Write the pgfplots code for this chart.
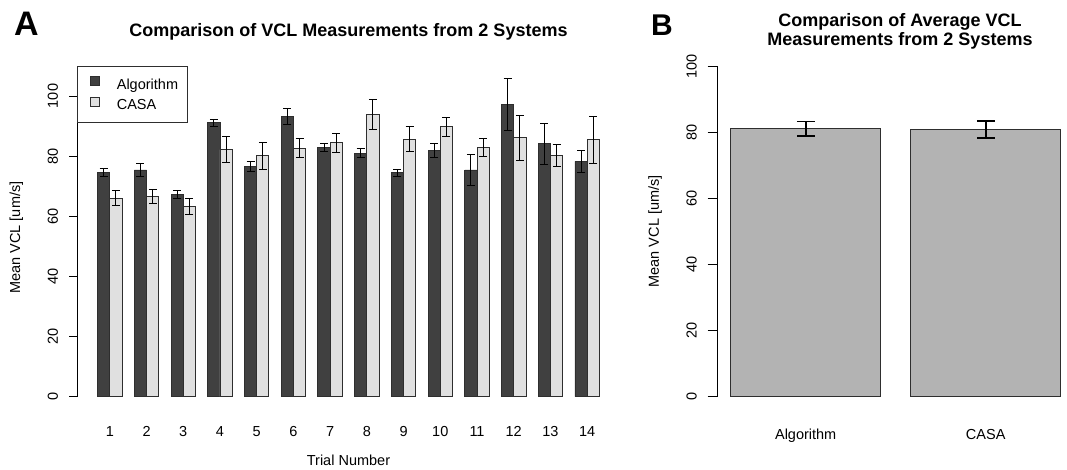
\documentclass[border=0pt]{standalone}
\usepackage{fontspec}
\setmainfont{Liberation Sans}
\usepackage{pgfplots}
\usepackage{pgfplotstable}
\pgfplotsset{compat=1.18}

\definecolor{algfill}{HTML}{404040}
\definecolor{casafill}{HTML}{E0E0E0}
\definecolor{avgfill}{HTML}{B3B3B3}
\definecolor{edge}{HTML}{2E2E2E}

% mean VCL per trial, with error (um/s)
\pgfplotstableread{
trial alg  algerr casa casaerr
1     74.5 1.25   66.0 2.55
2     75.4 2.0    66.7 2.35
3     67.3 1.35   63.3 2.7
4     91.1 1.2    82.2 4.3
5     76.6 1.6    80.1 4.45
6     93.2 2.65   82.6 3.2
7     82.9 1.35   84.5 3.2
8     81.0 1.5    93.8 4.9
9     74.5 1.2    85.7 4.0
10    82.0 2.35   89.8 3.2
11    75.4 5.0    82.9 2.85
12    97.2 8.6    86.1 7.5
13    84.1 6.85   80.1 3.65
14    78.3 3.7    85.4 7.8
}\vcltrials

% averages over all trials
\pgfplotstableread{
pos  mean  err
0.7  81.0  2.2
1.9  80.85 2.5
}\vclavg

\pgfplotsset{
  rstyle/.style={
    scale only axis,
    axis x line=bottom, axis y line=left,
    axis line style={draw=none},
    xtick style={draw=none},
    ytick style={black, line width=0.9pt},
    tick align=outside,
    clip=false,
    ytick={0,20,...,100},
    /pgf/number format/assume math mode=true,
    tick label style={font=\fontsize{14.5}{17}\selectfont},
    yticklabel style={rotate=90, anchor=base},
    xticklabel style={anchor=base},
  },
}

\begin{document}
\begin{tikzpicture}[x=1pt,y=1pt]
\useasboundingbox (0pt,0pt) rectangle (1067pt,-469pt);

\node[anchor=base west, inner sep=0pt, font=\bfseries\fontsize{34}{34}\selectfont] at (14pt,-35pt) {A};
\node[anchor=base west, inner sep=0pt, font=\bfseries\fontsize{30}{30}\selectfont] at (651pt,-35pt) {B};

% panel A
\begin{axis}[
  rstyle,
  at={(77.5pt,-409.45pt)}, anchor=south west,
  width=542pt, height=343.8pt,
  xmin=-0.64, xmax=43.64, ymin=-4.24, ymax=110.1,
  major tick length=8pt,
  yticklabel shift=11.5pt,
  xticklabel shift=19.5pt,
  xtick={2,5,...,41},
  xticklabels={1,2,3,4,5,6,7,8,9,10,11,12,13,14},
  ylabel={Mean VCL [um/s]},
  xlabel={Trial Number},
  every axis y label/.style={at={([xshift=-61pt]rel axis cs:0,0.5)}, rotate=90, anchor=center,
    font=\fontsize{14.5}{17}\selectfont},
  every axis x label/.style={at={([yshift=-50.5pt]rel axis cs:0.5,0)}, anchor=center,
    font=\fontsize{14.5}{17}\selectfont},
  title={Comparison of VCL Measurements from 2 Systems},
  every axis title/.style={at={(rel axis cs:0.5,1)}, anchor=base, yshift=29pt,
    font=\bfseries\fontsize{18}{21}\selectfont},
  legend image code/.code={
    \path (0pt,0pt);
    \draw[#1, line width=0.9pt] (3.4pt,-0.2pt) rectangle (12.4pt,8.8pt);
  },
  legend style={at={(rel axis cs:0,1)}, anchor=north west,
    draw=edge, line width=0.9pt, inner xsep=9pt, inner ysep=10pt,
    row sep=4.3pt,
    font=\fontsize{14.5}{17}\selectfont,
    nodes={inner sep=0pt, text height=10.5pt, text depth=3.2pt},
    /tikz/every odd column/.append style={column sep=16.6pt},
    cells={anchor=west}},
]
\addplot[ybar, bar width=1, bar shift=0pt, fill=algfill, draw=edge, line width=0.9pt,
  error bars/.cd, y dir=both, y explicit,
  error bar style={black, line width=1pt},
  error mark options={rotate=90, mark size=4pt, black, line width=1pt}]
  table[x expr=3*\thisrow{trial}-1.5, y=alg, y error=algerr] {\vcltrials};
\addlegendentry{Algorithm}
\addplot[ybar, bar width=1, bar shift=0pt, fill=casafill, draw=edge, line width=0.9pt,
  error bars/.cd, y dir=both, y explicit,
  error bar style={black, line width=1pt},
  error mark options={rotate=90, mark size=4pt, black, line width=1pt}]
  table[x expr=3*\thisrow{trial}-0.5, y=casa, y error=casaerr] {\vcltrials};
\addlegendentry{CASA}
\draw[black, line width=0.9pt] (axis cs:-0.64,0) -- (axis cs:-0.64,100);
\end{axis}

% panel B
\begin{axis}[
  rstyle,
  at={(717.5pt,-409.9pt)}, anchor=south west,
  width=349.5pt, height=357.1pt,
  xmin=0.112, xmax=2.442, ymin=-4, ymax=104,
  major tick length=10pt,
  yticklabel shift=11pt,
  xticklabel shift=19.3pt,
  xtick={0.7,1.9},
  xticklabels={Algorithm,CASA},
  ylabel={Mean VCL [um/s]},
  every axis y label/.style={at={([xshift=-62.5pt]rel axis cs:0,0.5)}, rotate=90, anchor=center,
    font=\fontsize{14.5}{17}\selectfont},
  title={Comparison of Average VCL\\Measurements from 2 Systems},
  every axis title/.style={at={(rel axis cs:0.5,1)}, anchor=south, align=center,
    inner sep=0pt, xshift=7.75pt, yshift=3.4pt,
    font=\bfseries\fontsize{18}{19}\selectfont},
]
\addplot[ybar, bar width=1, bar shift=0pt, fill=avgfill, draw=edge, line width=1pt,
  error bars/.cd, y dir=both, y explicit,
  error bar style={black, line width=1.8pt},
  error mark options={rotate=90, mark size=8.8pt, black, line width=1.8pt}]
  table[x=pos, y=mean, y error=err] {\vclavg};
\draw[black, line width=0.9pt] (axis cs:0.112,0) -- (axis cs:0.112,100);
\end{axis}
\end{tikzpicture}
\end{document}
